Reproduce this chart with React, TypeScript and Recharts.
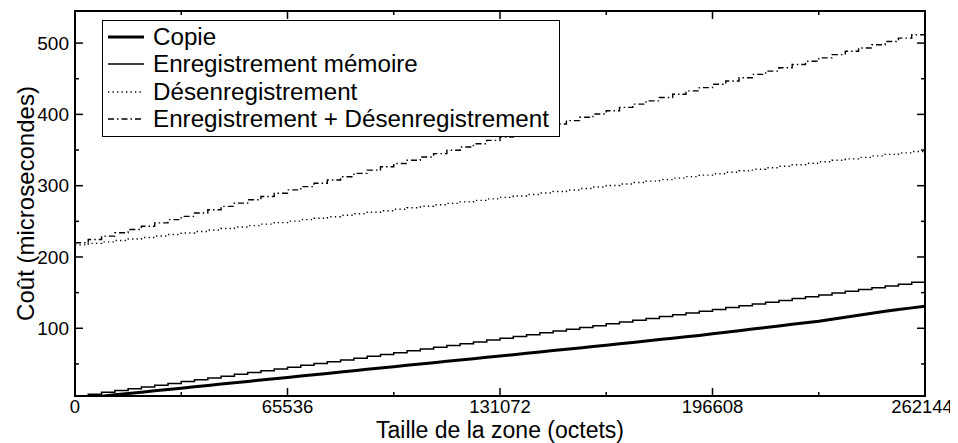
import React from 'react';
import { LineChart, Line, XAxis, YAxis, Legend, ReferenceArea } from 'recharts';

// Zone sizes (bytes)
const sizes = [0, 4096, 8192, 12288, 16384, 20480, 24576, 28672, 32768, 36864, 40960, 45056, 49152, 53248, 57344, 61440, 65536, 69632, 73728, 77824, 81920, 86016, 90112, 94208, 98304, 102400, 106496, 110592, 114688, 118784, 122880, 126976, 131072, 135168, 139264, 143360, 147456, 151552, 155648, 159744, 163840, 167936, 172032, 176128, 180224, 184320, 188416, 192512, 196608, 200704, 204800, 208896, 212992, 217088, 221184, 225280, 229376, 233472, 237568, 241664, 245760, 249856, 253952, 258048, 262144];

// Costs (microseconds)
const copie = [1.0, 2.9, 4.8, 6.6, 8.5, 10.4, 12.3, 14.2, 16.0, 17.9, 19.8, 21.7, 23.6, 25.4, 27.3, 29.2, 31.1, 33.0, 34.8, 36.7, 38.6, 40.5, 42.4, 44.2, 46.1, 48.0, 49.9, 51.8, 53.6, 55.5, 57.4, 59.3, 61.2, 63.0, 64.9, 66.8, 68.7, 70.6, 72.4, 74.3, 76.2, 78.2, 80.2, 82.1, 84.1, 86.1, 88.1, 90.0, 92.2, 94.4, 96.6, 98.9, 101.1, 103.3, 105.5, 107.8, 110.0, 112.8, 115.6, 118.4, 121.2, 124.0, 126.3, 128.6, 131.0];
const enregistrement = [5.0, 7.5, 10.1, 12.6, 15.1, 17.7, 20.2, 22.7, 25.2, 27.8, 30.3, 32.8, 35.4, 37.9, 40.4, 43.0, 45.5, 48.0, 50.6, 53.1, 55.6, 58.1, 60.7, 63.2, 65.7, 68.3, 70.8, 73.3, 75.9, 78.4, 80.9, 83.5, 86.0, 88.5, 91.0, 93.6, 96.1, 98.6, 101.2, 103.7, 106.2, 108.8, 111.3, 113.8, 116.4, 118.9, 121.4, 123.9, 126.5, 129.0, 131.5, 134.1, 136.6, 139.1, 141.7, 144.2, 146.7, 149.3, 151.8, 154.3, 156.8, 159.4, 161.9, 164.4, 167.0];
const desenregistrement = [217.0, 219.1, 221.2, 223.2, 225.3, 227.4, 229.5, 231.6, 233.6, 235.7, 237.8, 239.9, 242.0, 244.0, 246.1, 248.2, 250.3, 252.4, 254.4, 256.5, 258.6, 260.7, 262.8, 264.8, 266.9, 269.0, 271.1, 273.2, 275.2, 277.3, 279.4, 281.5, 283.6, 285.6, 287.7, 289.8, 291.9, 294.0, 296.0, 298.1, 300.2, 302.3, 304.4, 306.4, 308.5, 310.6, 312.7, 314.8, 316.8, 318.9, 321.0, 323.1, 325.2, 327.2, 329.3, 331.4, 333.5, 335.6, 337.6, 339.7, 341.8, 343.9, 346.0, 348.0, 350.1];
const total = [220.0, 224.6, 229.3, 233.9, 238.5, 243.1, 247.8, 252.4, 257.0, 261.7, 266.3, 270.9, 275.5, 280.2, 284.8, 289.4, 294.1, 298.7, 303.3, 307.9, 312.6, 317.2, 321.8, 326.5, 331.1, 335.7, 340.3, 345.0, 349.6, 354.2, 358.9, 363.5, 368.1, 372.7, 377.4, 382.0, 386.6, 391.3, 395.9, 400.5, 405.1, 409.8, 414.4, 419.0, 423.7, 428.3, 432.9, 437.5, 442.2, 446.8, 451.4, 456.1, 460.7, 465.3, 469.9, 474.6, 479.2, 483.8, 488.5, 493.1, 497.7, 502.3, 507.0, 511.6, 516.2];

const seriesNames = ['Copie', 'Enregistrement mémoire', 'Désenregistrement', 'Enregistrement + Désenregistrement'];
const xTicks = [0, 32768, 65536, 98304, 131072, 163840, 196608, 229376, 262144];
const xLabelTicks = [0, 65536, 131072, 196608, 262144];
const yTicks = [50, 100, 150, 200, 250, 300, 350, 400, 450, 500];
const yLabelTicks = [100, 200, 300, 400, 500];

const data = sizes.map((s, i) => ({
  size: s,
  copie: copie[i],
  enreg: enregistrement[i],
  desenreg: desenregistrement[i],
  total: total[i],
}));

const seriesStyle = [
  { key: 'copie', width: 3, dash: undefined as string | undefined, type: 'linear' },
  { key: 'enreg', width: 1.5, dash: undefined as string | undefined, type: 'stepAfter' },
  { key: 'desenreg', width: 1.4, dash: '1.3 3.2', type: 'stepAfter' },
  { key: 'total', width: 1.4, dash: '6 3 1.5 3', type: 'stepAfter' },
];

const PLOT_W = 850;
const PLOT_H = 385;
const Y_TICK_MARGIN = 5;
const X_TICK_MARGIN = 4;
const TICK_FONT = 18.5;

const renderYTick = (props: any) => {
  const { x, y, payload } = props;
  const v = payload.value;
  const ax = x + Y_TICK_MARGIN;
  const major = yLabelTicks.includes(v);
  const len = major ? 8 : 4;
  return (
    <g>
      <line x1={ax} x2={ax + len} y1={y} y2={y} stroke="#000" strokeWidth={1.5} />
      <line x1={ax + PLOT_W - len} x2={ax + PLOT_W} y1={y} y2={y} stroke="#000" strokeWidth={1.5} />
      {major && (
        <text x={x - 1} y={y} dy="0.355em" textAnchor="end" fontSize={TICK_FONT + 0.5} fill="#000">
          {v}
        </text>
      )}
    </g>
  );
};

const renderXTick = (props: any) => {
  const { x, y, payload, index, visibleTicksCount } = props;
  const v = payload.value;
  const ay = y - X_TICK_MARGIN;
  const major = xLabelTicks.includes(v);
  const len = major ? 8 : 4;
  const isLast = index === visibleTicksCount - 1;
  return (
    <g>
      <line x1={x} x2={x} y1={ay} y2={ay - len} stroke="#000" strokeWidth={1.5} />
      <line x1={x} x2={x} y1={ay - PLOT_H} y2={ay - PLOT_H + len} stroke="#000" strokeWidth={1.5} />
      {major && (
        <text x={x} y={y} dy="0.71em" dx={isLast ? -3 : 0} textAnchor="middle" fontSize={TICK_FONT} fill="#000">
          {v}
        </text>
      )}
    </g>
  );
};

const renderLegend = () => (
  <div
    style={{
      border: '1.5px solid #000',
      background: '#fff',
      padding: '2px 10px 3px 5px',
      fontSize: 24.2,
      color: '#000',
    }}
  >
    {seriesNames.map((name, i) => (
      <div key={name} style={{ display: 'flex', alignItems: 'center', height: 27.5 }}>
        <svg width={36} height={10} style={{ flex: 'none' }}>
          <line
            x1={0}
            x2={36}
            y1={5}
            y2={5}
            stroke="#000"
            strokeWidth={seriesStyle[i].width}
            strokeDasharray={seriesStyle[i].dash}
          />
        </svg>
        <span style={{ marginLeft: 9, whiteSpace: 'nowrap' }}>{name}</span>
      </div>
    ))}
  </div>
);

export default function App() {
  return (
    <div style={{ fontFamily: '"Liberation Sans", Arial, Helvetica, sans-serif', width: 950, height: 435 }}>
      <LineChart width={950} height={435} data={data} margin={{ top: 3, right: 33, bottom: 0, left: 7 }}>
        <XAxis
          dataKey="size"
          type="number"
          domain={[0, 262144]}
          ticks={xTicks}
          interval={0}
          allowDataOverflow
          height={47}
          tickSize={0}
          tickMargin={X_TICK_MARGIN}
          tickLine={false}
          tick={renderXTick}
          axisLine={{ stroke: '#000', strokeWidth: 2 }}
          label={{ value: 'Taille de la zone (octets)', position: 'insideBottom', offset: 5, fontSize: 23, fill: '#000' }}
        />
        <YAxis
          type="number"
          domain={[5, 545]}
          ticks={yTicks}
          interval={0}
          allowDataOverflow
          width={60}
          tickSize={0}
          tickMargin={Y_TICK_MARGIN}
          tickLine={false}
          tick={renderYTick}
          axisLine={{ stroke: '#000', strokeWidth: 2 }}
          label={{
            value: 'Coût (microsecondes)',
            angle: -90,
            position: 'insideLeft',
            offset: 10,
            fontSize: 24,
            fill: '#000',
            style: { textAnchor: 'middle' },
          }}
        />
        <ReferenceArea x1={0} x2={262144} y1={5} y2={545} fill="none" stroke="#000" strokeWidth={2} ifOverflow="visible" />
        {seriesStyle.map((s, i) => (
          <Line
            key={s.key}
            dataKey={s.key}
            name={seriesNames[i]}
            type={s.type as any}
            stroke="#000"
            strokeWidth={s.width}
            strokeDasharray={s.dash}
            dot={false}
            activeDot={false}
            isAnimationActive={false}
          />
        ))}
        <Legend
          layout="vertical"
          align="center"
          verticalAlign="middle"
          content={renderLegend}
          wrapperStyle={{ position: 'absolute', left: 94, top: 12, width: 'auto', height: 'auto' }}
        />
      </LineChart>
    </div>
  );
}
